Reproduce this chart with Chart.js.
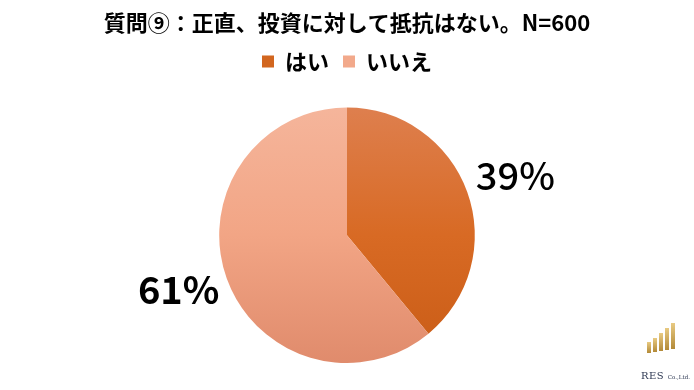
<!DOCTYPE html>
<html>
<head>
<meta charset="utf-8">
<script src="https://cdn.jsdelivr.net/npm/chart.js@4"></script>
<style>
  html, body { margin: 0; padding: 0; background: #fff; }
  #wrap { position: relative; width: 694px; height: 390px; }
  #logo { position: absolute; left: 636px; top: 315px; width: 58px; height: 70px; }
  #logo .bar { position: absolute; width: 4px;
    background: linear-gradient(#e8ca82, #b38a38); }
  #logo .txt { position: absolute; left: 5px; top: 55px; font-family: "DejaVu Serif", serif;
    font-size: 10px; color: #2a3550; white-space: nowrap; letter-spacing: 0.5px; }
  #logo .txt small { font-size: 5.5px; letter-spacing: 0; }
</style>
</head>
<body>
<div id="wrap">
  <canvas id="pie_canvas" width="694" height="390"></canvas>
  <div id="logo">
    <div class="bar" style="left:11px;top:27px;height:11px"></div>
    <div class="bar" style="left:17px;top:23px;height:14px"></div>
    <div class="bar" style="left:23px;top:18px;height:18px"></div>
    <div class="bar" style="left:29px;top:13px;height:22px"></div>
    <div class="bar" style="left:35px;top:8px;height:26px"></div>
    <div class="txt">RES <small>Co.,Ltd.</small></div>
  </div>
</div>
<script>
const title_text = '質問⑨：正直、投資に対して抵抗はない。N=600';
const answer_labels = ['はい', 'いいえ'];
const answer_percent = [39, 61];

const jp_font = '"Noto Sans CJK JP", "Noto Sans", sans-serif';

// vertical gradient per slice: [top, middle, bottom]
const slice_colors = [
    ['#de7f4e', '#d86a24', '#c95c16'],
    ['#f5b59b', '#f2a585', '#e08b6c']
];
const legend_colors = ['#d2661f', '#f2a98b'];
const label_weights = ['500', '700'];
const label_shift_y = [1, -6];

function sliceGradient(context) {
    const chart = context.chart;
    const area = chart.chartArea;
    if (!area) return legend_colors[context.dataIndex];
    const stops = slice_colors[context.dataIndex];
    const g = chart.ctx.createLinearGradient(0, area.top, 0, area.bottom);
    g.addColorStop(0, stops[0]);
    g.addColorStop(0.5, stops[1]);
    g.addColorStop(1, stops[2]);
    return g;
}

// extra gap under the legend
const legendGap = {
    id: 'legendGap',
    beforeInit(chart) {
        const fit = chart.legend.fit;
        chart.legend.fit = function () {
            fit.bind(chart.legend)();
            this.height += 25;
        };
    }
};

// percent labels outside the pie
const outsideLabels = {
    id: 'outsideLabels',
    afterDatasetsDraw(chart) {
        const ctx = chart.ctx;
        const meta = chart.getDatasetMeta(0);
        ctx.save();
        ctx.fillStyle = '#000';
        ctx.textAlign = 'center';
        ctx.textBaseline = 'middle';
        meta.data.forEach((arc, i) => {
            const mid = (arc.startAngle + arc.endAngle) / 2;
            const r = arc.outerRadius * 1.4;
            const x = arc.x + Math.cos(mid) * r;
            const y = arc.y + Math.sin(mid) * r + label_shift_y[i];
            ctx.font = label_weights[i] + ' 38px ' + jp_font;
            ctx.fillText(answer_percent[i] + '%', x, y);
        });
        ctx.restore();
    }
};

new Chart(document.getElementById('pie_canvas'), {
    type: 'pie',
    data: {
        labels: answer_labels,
        datasets: [{
            data: answer_percent,
            backgroundColor: sliceGradient,
            borderWidth: 0
        }]
    },
    options: {
        responsive: false,
        animation: false,
        layout: { padding: { top: 9, bottom: 27 } },
        plugins: {
            title: {
                display: true,
                text: title_text,
                color: '#000',
                font: { family: jp_font, size: 22, weight: 'bold' },
                padding: { top: 0, bottom: 1 }
            },
            legend: {
                position: 'top',
                labels: {
                    color: '#000',
                    font: { family: jp_font, size: 22, weight: 'bold' },
                    boxWidth: 12,
                    boxHeight: 12,
                    padding: 14,
                    generateLabels(chart) {
                        return answer_labels.map((t, i) => ({
                            text: t,
                            fillStyle: legend_colors[i],
                            strokeStyle: legend_colors[i],
                            lineWidth: 0,
                            index: i,
                            hidden: false
                        }));
                    }
                }
            },
            tooltip: { enabled: false }
        }
    },
    plugins: [legendGap, outsideLabels]
});
</script>
</body>
</html>
